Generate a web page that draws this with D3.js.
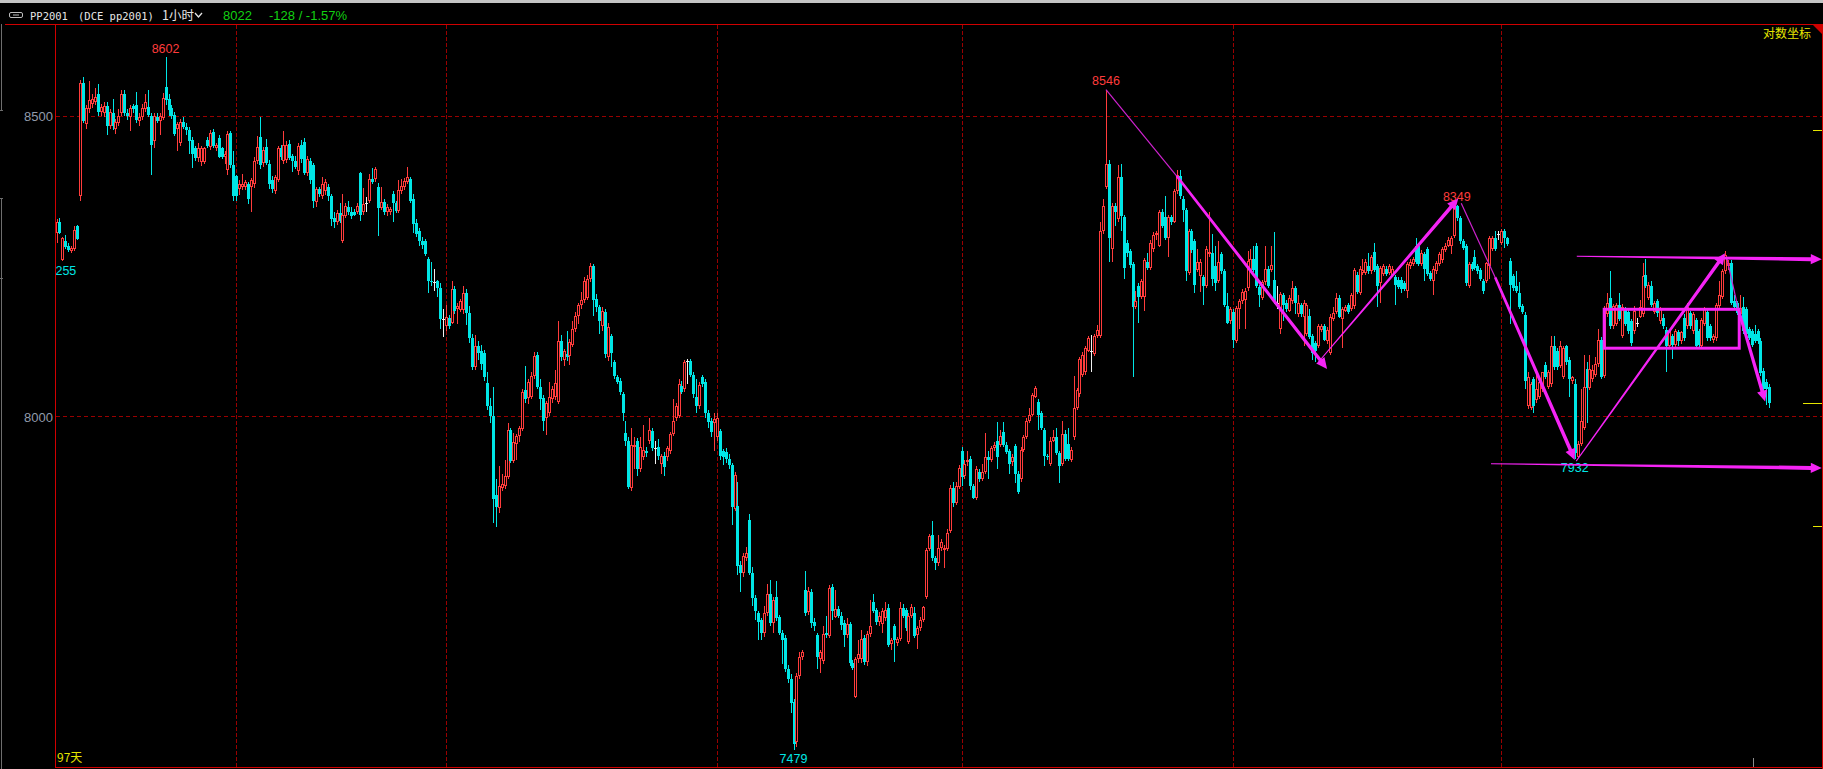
<!DOCTYPE html>
<html><head><meta charset="utf-8">
<script src="https://cdn.jsdelivr.net/npm/d3@7/dist/d3.min.js"></script>
<style>html,body{margin:0;padding:0;background:#000;overflow:hidden}</style>
</head><body>
<svg id="chart" width="1823" height="769"></svg>
<script>
// ---------- DATA (1-hour OHLC bars, [open, high, low, close]) ----------
const segA = [
[8302,8325,8286,8321],[8321,8327,8300,8302],[8257,8296,8255,8294],[8289,8298,8275,8279],[8281,8286,8270,8274],
[8272,8280,8268,8277],[8275,8314,8272,8307],[8314,8316,8290,8292],[8364,8562,8355,8558],[8558,8568,8488,8492],
[8487,8520,8478,8514],[8512,8560,8505,8528],[8522,8538,8515,8530],[8525,8548,8520,8534],[8538,8555,8500,8508],
[8508,8522,8500,8516],[8506,8525,8498,8518],[8518,8525,8468,8483],[8483,8512,8478,8508],[8505,8530,8477,8483],
[8478,8495,8470,8490],[8488,8512,8484,8500],[8505,8545,8500,8538],[8538,8545,8500,8506],[8506,8512,8494,8500],
[8498,8520,8475,8514],[8518,8522,8505,8512],[8520,8542,8488,8494],[8492,8505,8484,8498],[8498,8522,8494,8514],
[8512,8538,8508,8524],[8516,8545,8498,8503],[8500,8505,8400,8451],[8457,8505,8446,8501],[8498,8505,8488,8492],
[8492,8505,8468,8500],[8497,8540,8494,8532],[8550,8602,8520,8528],[8530,8538,8500,8510],[8515,8520,8495,8500],
[8502,8508,8466,8470],[8478,8490,8441,8486],[8455,8495,8450,8490],[8490,8498,8478,8482],[8482,8488,8468,8476],
[8477,8482,8435,8457],[8460,8465,8412,8435],[8445,8450,8424,8428],[8428,8455,8422,8445],[8422,8450,8415,8445],
[8422,8448,8418,8445],[8460,8465,8445,8449],[8447,8477,8443,8472],[8473,8478,8446,8450],[8446,8455,8440,8451],
[8462,8468,8428,8430],[8445,8448,8427,8431],[8431,8440,8418,8436],[8408,8475,8400,8469],[8472,8475,8412,8416],
[8416,8440,8355,8364],[8398,8400,8356,8364],[8376,8392,8366,8384],[8380,8401,8375,8385],[8380,8392,8375,8388],
[8384,8388,8350,8360],[8380,8395,8338,8392],[8384,8430,8378,8423],[8423,8467,8418,8447],[8465,8498,8410,8416],
[8420,8448,8414,8443],[8447,8461,8416,8420],[8419,8425,8376,8384],[8392,8398,8370,8376],[8372,8400,8368,8396],
[8392,8450,8388,8445],[8445,8451,8425,8430],[8423,8475,8418,8451],[8425,8458,8420,8451],[8453,8459,8425,8429],
[8432,8436,8405,8424],[8424,8432,8410,8414],[8406,8455,8400,8449],[8451,8459,8420,8427],[8456,8462,8400,8404],
[8404,8432,8398,8427],[8423,8428,8385,8392],[8416,8420,8344,8356],[8354,8380,8345,8376],[8376,8380,8362,8367],
[8364,8396,8360,8384],[8372,8393,8366,8388],[8380,8385,8355,8364],[8364,8368,8314,8325],[8328,8338,8310,8321],
[8320,8340,8315,8336]
];
const segB = [
[8336,8352,8318,8322],[8288,8368,8286,8333],[8331,8352,8328,8348],[8346,8356,8332,8337],[8337,8345,8326,8330],
[8338,8342,8330,8333],[8337,8352,8334,8348],[8403,8405,8322,8333],[8337,8378,8333,8350],[8352,8362,8338,8352],
[8356,8401,8352,8393],[8393,8412,8384,8388],[8393,8414,8388,8410],[8380,8386,8297,8344],[8344,8380,8340,8354],
[8354,8360,8332,8337],[8337,8350,8330,8345],[8337,8346,8333,8342],[8368,8372,8321,8352],[8352,8356,8335,8339],
[8339,8392,8335,8374],[8372,8393,8368,8382],[8379,8395,8375,8389],[8388,8413,8384,8397],[8393,8397,8352,8356],
[8359,8368,8302,8317],[8318,8325,8296,8301],[8305,8310,8280,8288],[8288,8296,8276,8282],[8289,8292,8263,8267],
[8258,8262,8202,8222],[8222,8253,8214,8220],[8220,8242,8206,8220],[8222,8224,8195,8210],[8210,8218,8143,8159],
[8159,8175,8130,8159],[8147,8182,8140,8163],[8161,8165,8142,8147],[8153,8222,8150,8208],[8208,8214,8168,8173],
[8175,8185,8151,8180],[8174,8192,8170,8188],[8174,8214,8168,8202],[8202,8208,8149,8169],[8169,8180,8120,8128],
[8128,8134,8075,8080],[8080,8133,8076,8115],[8115,8122,8092,8103],[8107,8117,8075,8085],[8103,8108,8058,8064],
[8054,8072,8010,8017],[8017,8030,7990,8000],[8000,8048,7830,7868],[7874,7900,7823,7855],[7854,7920,7845,7888],
[7885,7908,7880,7891],[7888,7930,7883,7905],[7903,7990,7900,7978],[7978,7982,7925,7929],[7929,7973,7925,7959],
[7956,7972,7930,7968],[7968,7985,7958,7982],[7980,8045,7976,8040],[8043,8082,8022,8028],[8030,8060,8020,8055],
[8032,8072,8028,8066],[8066,8104,8060,8098],[8100,8104,8044,8048],[8048,8060,8011,8028],[8030,8035,7976,7993],
[7997,8025,7970,8021],[8005,8056,8000,8032],[8028,8050,8022,8044],[8032,8076,8026,8054],[8024,8155,8020,8123],
[8123,8133,8090,8096],[8092,8110,8082,8107],[8102,8139,8090,8096],[8098,8126,8084,8121],[8117,8155,8113,8143],
[8143,8170,8138,8164],[8164,8186,8150,8182],[8182,8204,8176,8190],[8190,8228,8186,8222],[8194,8232,8190,8226],
[8226,8252,8220,8246],[8246,8250,8164,8191],[8192,8200,8170,8178],[8178,8182,8135,8156],[8147,8178,8140,8172],
[8170,8176,8095,8101],[8096,8153,8090,8145],[8131,8135,8080,8103],[8088,8092,8060,8066],[8064,8068,8052,8056],
[8058,8062,8035,8040],[8036,8040,7993,8005]
];
const segC = [
[7973,7993,7952,7961],[7960,7966,7884,7887],[7885,7982,7880,7954],[7951,7967,7915,7954],[7960,7965,7904,7915],
[7915,7966,7910,7951],[7934,7986,7930,7946],[7945,7950,7935,7941],[7960,7998,7955,7978],[7976,7982,7945,7949],
[7949,7960,7923,7949],[7950,7963,7930,7936],[7923,7940,7908,7937],[7937,7942,7904,7919],[7934,7952,7928,7949],
[7945,7975,7940,7971],[7971,8028,7968,7993],[7997,8022,7993,8017],[8000,8060,7998,8052],[8050,8058,8036,8040],
[8044,8092,8040,8088],[8090,8093,8052,8090],[8090,8093,8064,8068],[8068,8072,8030,8036],[8032,8060,8005,8017],
[8017,8055,8012,8051],[8064,8068,8048,8052],[8056,8060,7997,8005],[8006,8010,7982,7991],[7993,7998,7967,7975],
[7990,8006,7945,7996],[7966,8006,7960,7997],[7976,7980,7930,7937],[7945,7948,7922,7934],[7943,7949,7925,7932],
[7932,7940,7915,7922],[7922,7925,7826,7855],[7852,7910,7848,7906],[7857,7894,7747,7762],[7764,7770,7721,7751],
[7751,7782,7745,7777],[7774,7792,7770,7783],[7835,7844,7748,7751],[7751,7760,7700,7712],[7712,7716,7678,7692],
[7688,7692,7647,7675],[7677,7680,7647,7658],[7658,7699,7652,7688],[7688,7733,7684,7718],[7718,7740,7668,7673],
[7673,7714,7658,7708],[7713,7738,7676,7681],[7682,7686,7654,7658],[7658,7662,7610,7647],[7650,7654,7598,7602],
[7602,7608,7580,7587],[7587,7594,7535,7550],[7551,7556,7479,7487],[7490,7596,7483,7591],[7591,7628,7587,7621],
[7621,7632,7616,7628],[7725,7754,7684,7689],[7690,7729,7686,7723],[7721,7726,7665,7673],[7675,7680,7660,7669],
[7654,7658,7602,7621],[7617,7632,7596,7628],[7615,7669,7610,7656],[7658,7684,7650,7654],[7653,7732,7650,7727],
[7729,7733,7677,7692],[7683,7725,7680,7694],[7695,7700,7680,7684],[7684,7690,7662,7670],[7673,7677,7636,7654],
[7654,7680,7650,7671],[7671,7675,7606,7611],[7612,7616,7600,7604],[7559,7620,7557,7617],[7617,7647,7612,7625],
[7617,7662,7612,7648],[7650,7654,7608,7613],[7613,7660,7606,7656],[7656,7708,7652,7669],[7705,7718,7688,7692],
[7693,7697,7670,7675],[7675,7690,7668,7684],[7671,7696,7658,7692],[7680,7706,7676,7693],[7697,7702,7636,7639],
[7641,7650,7632,7647],[7669,7672,7613,7647],[7642,7652,7638,7648],[7648,7705,7645,7697],[7697,7702,7680,7684],
[7693,7697,7660,7665]
];
const segD = [
[7643,7688,7640,7684],[7684,7703,7680,7698],[7688,7698,7650,7653],[7654,7668,7633,7665],[7665,7682,7660,7678],
[7678,7700,7675,7698],[7714,7790,7710,7787],[7788,7812,7785,7809],[7811,7832,7770,7774],[7775,7778,7755,7766],
[7766,7811,7762,7790],[7790,7804,7785,7800],[7787,7795,7759,7790],[7788,7820,7785,7814],[7817,7890,7814,7885],
[7885,7895,7855,7861],[7861,7894,7858,7889],[7887,7922,7883,7917],[7945,7950,7889,7902],[7904,7930,7900,7924],
[7926,7945,7920,7930],[7931,7936,7882,7889],[7889,7892,7867,7870],[7870,7920,7866,7915],[7911,7916,7895,7900],
[7900,7923,7896,7911],[7911,7973,7908,7934],[7934,7945,7900,7930],[7930,7953,7926,7949],[7949,7958,7945,7954],
[7961,7991,7915,7934],[7954,7978,7950,7969],[7975,7991,7950,7954],[7954,7958,7940,7943],[7945,7948,7908,7924],
[7926,7940,7920,7934],[7952,7956,7893,7908],[7908,7912,7875,7878],[7899,7950,7895,7946],[7946,7970,7943,7967],
[7967,7997,7964,7993],[7993,8014,7990,8003],[8003,8038,8000,8035],[8032,8050,8030,8046],[8024,8028,7978,8003],
[8005,8008,7978,7982],[7978,7982,7921,7936],[7936,7940,7930,7934],[7923,7966,7920,7961],[7961,7978,7958,7967],
[7966,7981,7938,7941],[7941,7944,7893,7921],[7923,7993,7920,7971],[7971,7978,7928,7931],[7956,7981,7928,7931],
[7930,7950,7926,7946],[7966,8066,7962,8014],[8014,8046,8010,8043],[8036,8096,8032,8093],[8068,8104,8064,8100],
[8072,8115,8068,8111],[8107,8131,8104,8127],[8107,8133,8072,8107],[8101,8135,8098,8131],[8131,8149,8128,8141],
[8131,8321,8128,8305],[8305,8360,8300,8348],[8380,8546,8376,8419],[8419,8425,8254,8293],[8275,8352,8254,8348],
[8348,8352,8313,8337],[8325,8416,8320,8396],[8396,8419,8305,8330],[8329,8333,8226,8243],[8285,8290,8262,8269],
[8272,8276,8244,8248],[8250,8254,8064,8179],[8179,8206,8175,8188],[8214,8218,8153,8196],[8196,8226,8192,8222],
[8196,8260,8172,8256],[8254,8269,8240,8243],[8243,8290,8240,8285],[8275,8303,8270,8299],[8299,8305,8290,8302],
[8281,8340,8278,8338],[8338,8342,8310,8314],[8329,8364,8290,8293],[8293,8332,8261,8329],[8329,8333,8316,8321],
[8321,8376,8318,8372],[8372,8408,8368,8400],[8398,8408,8360,8364],[8360,8364,8321,8340],[8340,8344,8222,8238],
[8235,8309,8232,8305],[8305,8309,8268,8273]
];
const segE = [
[8288,8292,8202,8216],[8240,8275,8236,8254],[8230,8258,8204,8254],[8228,8232,8182,8213],[8214,8281,8210,8275],
[8266,8337,8262,8271],[8269,8300,8214,8226],[8246,8281,8206,8218],[8222,8289,8218,8254],[8266,8270,8234,8238],
[8238,8242,8178,8182],[8180,8202,8150,8153],[8155,8179,8151,8175],[8171,8175,8111,8125],[8123,8181,8120,8177],
[8175,8192,8143,8188],[8188,8208,8184,8204],[8190,8210,8143,8206],[8210,8272,8206,8255],[8240,8275,8236,8258],
[8258,8281,8236,8240],[8281,8285,8210,8214],[8212,8216,8179,8198],[8194,8224,8190,8220],[8220,8280,8216,8242],
[8242,8246,8210,8214],[8240,8280,8236,8248],[8224,8303,8184,8188],[8186,8214,8175,8186],[8143,8204,8135,8200],
[8198,8202,8155,8182],[8186,8190,8170,8175],[8173,8198,8170,8194],[8188,8222,8184,8210],[8210,8214,8167,8186],
[8167,8198,8163,8185],[8182,8186,8163,8167],[8163,8190,8115,8186],[8135,8186,8131,8182],[8164,8175,8126,8130],
[8131,8135,8092,8103],[8119,8122,8088,8107],[8115,8151,8111,8147],[8141,8150,8138,8147],[8147,8151,8122,8125],
[8122,8145,8118,8141],[8103,8167,8100,8163],[8159,8179,8155,8169],[8171,8202,8168,8194],[8194,8198,8160,8163],
[8159,8178,8111,8175],[8173,8182,8170,8179],[8182,8186,8168,8171],[8175,8202,8172,8198],[8180,8244,8176,8240],
[8232,8236,8200,8204],[8202,8246,8198,8242],[8235,8258,8232,8240],[8235,8258,8232,8254],[8246,8269,8234,8238],
[8238,8265,8234,8261],[8271,8285,8236,8240],[8246,8250,8179,8214],[8218,8247,8186,8243],[8234,8250,8230,8246],
[8242,8246,8230,8234],[8235,8250,8232,8246],[8232,8246,8228,8242],[8228,8232,8182,8216],[8224,8228,8208,8212],
[8224,8228,8202,8209],[8218,8222,8205,8209],[8206,8254,8193,8250],[8246,8258,8242,8254],[8250,8262,8246,8258],
[8281,8293,8250,8254],[8281,8285,8246,8250],[8250,8273,8246,8269],[8267,8271,8222,8242],[8275,8279,8230,8234],
[8235,8239,8222,8226],[8222,8246,8198,8242],[8238,8255,8234,8251],[8250,8270,8246,8266],[8256,8279,8252,8275],
[8273,8285,8270,8281],[8281,8295,8278,8291],[8281,8297,8266,8293],[8297,8348,8293,8345],[8347,8349,8322,8327],
[8327,8331,8284,8288],[8288,8292,8273,8277],[8280,8284,8214,8218],[8214,8254,8210,8250],[8250,8254,8238,8242],
[8261,8273,8240,8243],[8246,8250,8234,8238]
];
const segF = [
[8240,8244,8222,8226],[8222,8226,8200,8206],[8222,8254,8218,8251],[8246,8297,8226,8293],[8275,8297,8272,8293],
[8293,8305,8272,8275],[8301,8305,8290,8301],[8285,8308,8282,8305],[8305,8309,8277,8293],[8293,8296,8280,8283],
[8255,8260,8151,8216],[8230,8234,8206,8210],[8214,8238,8202,8206],[8202,8220,8176,8179],[8180,8184,8168,8171],
[8165,8170,8044,8058],[8017,8072,8012,8064],[8014,8056,8010,8052],[8060,8064,8005,8017],[8027,8077,8022,8044],
[8032,8060,8028,8056],[8044,8072,8040,8072],[8084,8088,8060,8064],[8048,8076,8044,8072],[8052,8131,8048,8115],
[8115,8131,8076,8080],[8107,8111,8076,8080],[8082,8122,8078,8115],[8064,8115,8060,8111],[8115,8117,8084,8088],
[8092,8096,8032,8060],[8058,8066,8052,8064],[8052,8060,7932,7941],[7934,7960,7933,7956],[7956,8044,7952,7993],
[7982,8100,7978,8048],[8077,8088,7989,8046],[8046,8100,8042,8077],[8060,8084,8056,8076],[8068,8096,8064,8085],
[8085,8143,8080,8125],[8125,8130,8060,8064],[8066,8180,8062,8175],[8167,8202,8163,8186],[8194,8238,8143,8147],
[8147,8184,8143,8180],[8151,8186,8147,8182],[8182,8202,8155,8159],[8131,8183,8127,8179],[8175,8179,8147,8151],
[8171,8175,8135,8139],[8155,8159,8115,8119],[8139,8180,8135,8172],[8153,8160,8145,8153],[8163,8190,8160,8179],
[8167,8251,8163,8230],[8232,8258,8210,8214],[8194,8220,8190,8216],[8214,8222,8178,8182],[8171,8188,8167,8185],
[8188,8192,8163,8169],[8155,8178,8151,8175],[8161,8167,8143,8147],[8141,8145,8072,8115],[8115,8142,8111,8139],
[8131,8135,8093,8117],[8117,8142,8113,8139],[8137,8141,8115,8123],[8122,8140,8118,8137],[8161,8167,8123,8127],
[8147,8186,8143,8179],[8169,8173,8143,8147],[8139,8170,8135,8167],[8157,8161,8111,8115],[8139,8143,8113,8117],
[8115,8161,8111,8157],[8151,8178,8147,8175],[8171,8175,8123,8127],[8147,8151,8123,8127],[8125,8135,8120,8131],
[8127,8186,8123,8182],[8180,8222,8176,8198],[8196,8242,8192,8238],[8238,8272,8234,8265],[8246,8256,8240,8251],
[8251,8256,8182,8186],[8188,8198,8176,8179],[8185,8189,8165,8169],[8167,8198,8164,8177],[8179,8196,8135,8139],
[8175,8179,8131,8135],[8143,8146,8125,8127],[8139,8142,8113,8117],[8135,8149,8119,8123],[8139,8143,8118,8122],
[8123,8127,8066,8070],[8074,8078,8040,8044],[8056,8060,8019,8044],[8048,8052,8014,8022]
];
const candles = [].concat(segA, segB, segC, segD, segE, segF);

const priceTicks = [8000, 8500];          // left axis labels + dashed grid
const priceRange = [7453, 8660];          // visible range of the log axis
const separatorBars = [61, 132, 224, 307, 399, 490];  // dashed vertical separators (bar index)
const extremeHighs = [37, 356, 475];      // bars whose high is annotated
const extremeLows = [2, 250, 515];        // bars whose low is annotated
const rightMarks = [8476, 8022, 7825];    // yellow marks on the right edge
const symbolTexts = ["PP2001", "(DCE pp2001)", "1小时"];
const quoteTexts = ["8022", "-128 / -1.57%"];
const cornerTexts = ["对数坐标", "97天"];
// drawn annotations in (bar index, price) units
const thinLines = [[356, 8546, 380, 8398], [476.5, 8352, 488, 8228], [566.5, 8262, 570.5, 8175]];
const arrowLines = [
  [380, 8398, 431, 8077], [428, 8088, 475.5, 8360], [488, 8228, 515, 7930],
  [515.5, 7928, 566, 8268], [570.5, 8175, 579.6, 8024], [515.7, 8263, 598.8, 8258], [486.6, 7924, 598.8, 7917]
];
const boxRange = [525, 570.8, 8111, 8175];

// ---------- STYLE ----------
const W = 1823, H = 769;
const UP = "#ff3c3c", DOWN = "#00e6e6", DOJI = "#f0f0f0";
const FRAME = "#d00000", GRID = "#9a0000", MAG = "#f524f5", MAG_THIN = "#cf22cf", YEL = "#e6e600";
const arrowTaper = [[2.6, 3.4], [1.0, 3.8], [2.6, 3.6], [1.0, 3.6], [3.0, 3.4], [1.0, 4.0], [1.0, 4.0]];

const svg = d3.select("#chart");
svg.append("rect").attr("width", W).attr("height", H).attr("fill", "#000");

const x = d3.scaleLinear().domain([0, candles.length - 1]).range([56.5, 1769.3]);
const y = d3.scaleLog().domain(priceRange).range([767, 24]);

svg.append("defs").append("clipPath").attr("id", "clip")
  .append("rect").attr("x", 56).attr("y", 25).attr("width", 1766).attr("height", 742);

// top strip
svg.append("rect").attr("x", 0).attr("y", 0).attr("width", W).attr("height", 3).attr("fill", "#c4c4c4");

// grid
const grid = svg.append("g");
grid.selectAll("line.h").data(priceTicks).join("line")
  .attr("x1", 56).attr("x2", 1822)
  .attr("y1", d => Math.round(y(d)) + 0.5).attr("y2", d => Math.round(y(d)) + 0.5)
  .attr("stroke", GRID).attr("stroke-width", 1).attr("stroke-dasharray", "4,3");
grid.selectAll("line.v").data(separatorBars).join("line")
  .attr("x1", d => Math.round(x(d)) + 0.5).attr("x2", d => Math.round(x(d)) + 0.5)
  .attr("y1", 25).attr("y2", 767)
  .attr("stroke", GRID).attr("stroke-width", 1).attr("stroke-dasharray", "4,2");

// left axis labels
const axis = d3.axisLeft(y).tickValues(priceTicks).tickSize(0).tickPadding(0).tickFormat(d3.format("d"));
const ax = svg.append("g").attr("transform", "translate(53,0)").call(axis);
ax.select(".domain").remove();
ax.selectAll("text").attr("fill", "#929bab").attr("font-family", "Liberation Sans, Arial, sans-serif")
  .attr("font-size", 13).attr("dy", "0.36em");

// candles
const plot = svg.append("g").attr("clip-path", "url(#clip)");
const cg = plot.append("g").attr("shape-rendering", "crispEdges");
cg.selectAll("g").data(candles).join("g").each(function (d, i) {
  const [o, h, l, c] = d;
  const g = d3.select(this);
  const cx = Math.round(x(i));
  const yh = Math.round(y(h)), yl = Math.round(y(l));
  const yt = Math.round(y(Math.max(o, c))), yb = Math.round(y(Math.min(o, c)));
  const wick = (a, b, col) => g.append("rect").attr("x", cx).attr("y", a).attr("width", 1)
    .attr("height", Math.max(1, b - a)).attr("fill", col);
  if (c > o) {
    if (yt > yh) wick(yh, yt, UP);
    if (yl > yb) wick(yb, yl, UP);
    if (yb - yt >= 2) {
      g.append("rect").attr("x", cx - 0.5).attr("y", yt + 0.5).attr("width", 2).attr("height", yb - yt - 1)
        .attr("fill", "#000").attr("stroke", UP).attr("stroke-width", 1);
    } else {
      g.append("rect").attr("x", cx - 1).attr("y", yt).attr("width", 3).attr("height", Math.max(1, yb - yt)).attr("fill", UP);
    }
  } else if (c < o) {
    wick(yh, yl, DOWN);
    g.append("rect").attr("x", cx - 1).attr("y", yt).attr("width", 3).attr("height", Math.max(1, yb - yt)).attr("fill", DOWN);
  } else {
    wick(yh, yl, DOJI);
    g.append("rect").attr("x", cx - 1).attr("y", yt).attr("width", 3).attr("height", 1).attr("fill", DOJI);
  }
});

// extreme labels
const lab = plot.append("g").attr("font-family", "Liberation Sans, Arial, sans-serif").attr("font-size", 12.5)
  .attr("text-anchor", "middle");
lab.selectAll("text.hi").data(extremeHighs).join("text")
  .attr("x", i => x(i)).attr("y", i => y(candles[i][1]) - 4.5).attr("fill", UP)
  .text(i => candles[i][1]);
lab.selectAll("text.lo").data(extremeLows).join("text")
  .attr("x", i => x(i)).attr("y", i => y(candles[i][2]) + 13.5).attr("fill", DOWN)
  .text(i => candles[i][2]);

// annotations
const ann = plot.append("g");
ann.selectAll("line").data(thinLines).join("line")
  .attr("x1", d => x(d[0])).attr("y1", d => y(d[1])).attr("x2", d => x(d[2])).attr("y2", d => y(d[3]))
  .attr("stroke", MAG_THIN).attr("stroke-width", 1.2);
function arrowPoly(d, k) {
  const x1 = x(d[0]), y1 = y(d[1]), x2 = x(d[2]), y2 = y(d[3]);
  const [w0, w1] = arrowTaper[k];
  const dx = x2 - x1, dy = y2 - y1, L = Math.hypot(dx, dy);
  const ux = dx / L, uy = dy / L, nx = -uy, ny = ux;
  const hl = 11, hw = 5.2;
  const bx = x2 - ux * hl, by = y2 - uy * hl;
  const p = [
    [x1 + nx * w0 / 2, y1 + ny * w0 / 2], [bx + nx * w1 / 2, by + ny * w1 / 2], [bx + nx * hw, by + ny * hw],
    [x2, y2], [bx - nx * hw, by - ny * hw], [bx - nx * w1 / 2, by - ny * w1 / 2], [x1 - nx * w0 / 2, y1 - ny * w0 / 2]
  ];
  return "M" + p.map(q => q[0].toFixed(2) + "," + q[1].toFixed(2)).join("L") + "Z";
}
ann.selectAll("path.arrow").data(arrowLines).join("path")
  .attr("d", (d, k) => arrowPoly(d, k)).attr("fill", MAG);
ann.append("rect")
  .attr("x", x(boxRange[0])).attr("y", y(boxRange[3]))
  .attr("width", x(boxRange[1]) - x(boxRange[0])).attr("height", y(boxRange[2]) - y(boxRange[3]))
  .attr("fill", "none").attr("stroke", MAG).attr("stroke-width", 3);

// right yellow marks
const lastClose = candles[candles.length - 1][3];
svg.append("g").selectAll("line").data(rightMarks).join("line")
  .attr("x1", d => d === lastClose ? 1803 : 1813).attr("x2", 1822)
  .attr("y1", d => Math.round(y(d)) + 0.5).attr("y2", d => Math.round(y(d)) + 0.5)
  .attr("stroke", YEL).attr("stroke-width", 1);

// frame
const fr = svg.append("g").attr("shape-rendering", "crispEdges");
fr.append("line").attr("x1", 5).attr("x2", W).attr("y1", 24.5).attr("y2", 24.5).attr("stroke", FRAME);
fr.append("line").attr("x1", 55.5).attr("x2", 55.5).attr("y1", 24).attr("y2", 768).attr("stroke", FRAME);
fr.append("line").attr("x1", 55).attr("x2", W).attr("y1", 767.5).attr("y2", 767.5).attr("stroke", FRAME);
fr.append("line").attr("x1", 1822.5).attr("x2", 1822.5).attr("y1", 24).attr("y2", 769).attr("stroke", FRAME);
svg.append("path").attr("d", "M1812,24L1823,24L1823,35Z").attr("fill", FRAME);
// left gray bracket
const lg = svg.append("g").attr("stroke", "#6e6e6e").attr("shape-rendering", "crispEdges");
lg.append("line").attr("x1", 1.5).attr("x2", 1.5).attr("y1", 24).attr("y2", 110);
lg.append("line").attr("x1", 0).attr("x2", 3).attr("y1", 110.5).attr("y2", 110.5);
lg.append("line").attr("x1", 1.5).attr("x2", 1.5).attr("y1", 198).attr("y2", 769);
lg.append("line").attr("x1", 0).attr("x2", 3).attr("y1", 198.5).attr("y2", 198.5);
lg.append("line").attr("x1", 0).attr("x2", 3).attr("y1", 278.5).attr("y2", 278.5);
svg.append("line").attr("x1", 1753.5).attr("x2", 1753.5).attr("y1", 758).attr("y2", 767)
  .attr("stroke", "#8c8c8c").attr("shape-rendering", "crispEdges");

// header
const hd = svg.append("g");
hd.append("rect").attr("x", 9.5).attr("y", 12.5).attr("width", 13).attr("height", 5).attr("rx", 1.5)
  .attr("fill", "none").attr("stroke", "#bdbdbd");
hd.append("line").attr("x1", 13).attr("x2", 19).attr("y1", 15).attr("y2", 15).attr("stroke", "#bdbdbd");
const mono = "DejaVu Sans Mono, Liberation Mono, monospace";
hd.append("text").attr("x", 30).attr("y", 19.5).attr("font-family", mono).attr("font-size", 10.5)
  .attr("fill", "#e6e6e6").text(symbolTexts[0]);
hd.append("text").attr("x", 78).attr("y", 19.5).attr("font-family", mono).attr("font-size", 10.5)
  .attr("fill", "#e6e6e6").text(symbolTexts[1]);
hd.append("text").attr("x", 162).attr("y", 20).attr("font-family", "Noto Sans CJK SC, sans-serif").attr("font-size", 12.5)
  .attr("fill", "#e6e6e6").text(symbolTexts[2]);
hd.append("polyline").attr("points", "195,13 198.5,17 202,13").attr("fill", "none")
  .attr("stroke", "#e6e6e6").attr("stroke-width", 1.3);
hd.append("text").attr("x", 223).attr("y", 20).attr("font-family", "Liberation Sans, Arial, sans-serif").attr("font-size", 13)
  .attr("fill", "#12d012").text(quoteTexts[0]);
hd.append("text").attr("x", 269).attr("y", 20).attr("font-family", "Liberation Sans, Arial, sans-serif").attr("font-size", 13)
  .attr("fill", "#12d012").text(quoteTexts[1]);

// corner texts
svg.append("text").attr("x", 1811).attr("y", 38).attr("text-anchor", "end")
  .attr("font-family", "Noto Sans CJK SC, sans-serif").attr("font-size", 12).attr("fill", YEL).text(cornerTexts[0]);
svg.append("text").attr("x", 57).attr("y", 762)
  .attr("font-family", "Noto Sans CJK SC, sans-serif").attr("font-size", 12).attr("fill", YEL).text(cornerTexts[1]);
</script>
</body></html>
